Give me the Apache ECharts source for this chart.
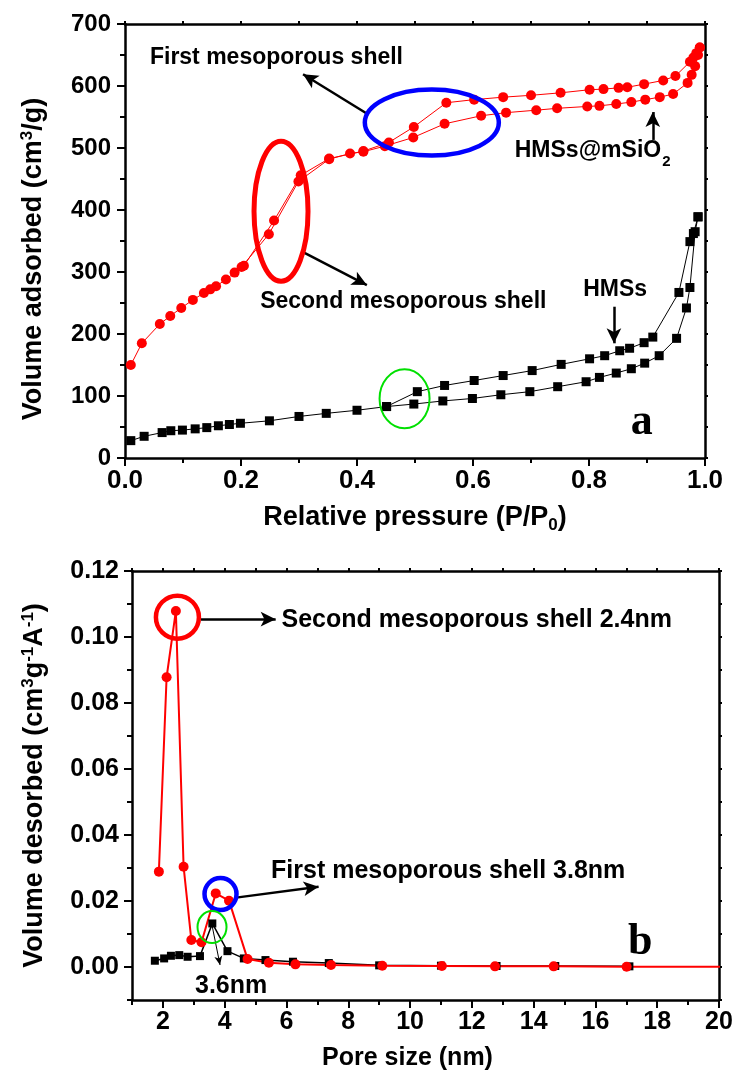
<!DOCTYPE html>
<html>
<head>
<meta charset="UTF-8">
<title>isotherm + pore size</title>
<script src="https://cdn.jsdelivr.net/npm/echarts@6/dist/echarts.min.js"></script>
<style>html,body{margin:0;padding:0;background:#fff;}</style>
</head>
<body>
<div id="main" style="width:736px;height:1073px"></div>
<script>
// (a) N2 isotherms: relative pressure P/P0 vs volume adsorbed (cm3/g)
var redAdsX = [0.010,0.029,0.060,0.078,0.097,0.117,0.136,0.147,0.157,0.174,0.189,0.201,0.248,0.299,0.352,0.388,0.411,0.448,0.497,0.551,0.614,0.657,0.709,0.745,0.797,0.818,0.847,0.873,0.897,0.922,0.945,0.970,0.977,0.983,0.988,0.991];
var redAdsY = [150,185,216,229,242,255,266,272,277,288,299,308,361,446,482,491,494,503,517,539,552,557,561,564,567,568,571,574,578,582,587,605,618,632,650,662];
var redDesX = [0.991,0.985,0.980,0.974,0.949,0.928,0.895,0.866,0.851,0.825,0.801,0.751,0.700,0.652,0.602,0.554,0.498,0.455,0.411,0.352,0.303,0.257,0.205];
var redDesY = [662,653,646,639,616,609,603,598,597,595,594,589,585,582,578,573,534,509,495,483,456,383,310];
var blackAdsX = [0.010,0.033,0.064,0.079,0.099,0.121,0.141,0.161,0.180,0.199,0.249,0.300,0.347,0.400,0.451,0.498,0.548,0.599,0.648,0.698,0.746,0.795,0.818,0.847,0.873,0.896,0.921,0.951,0.968,0.974,0.983,0.988];
var blackAdsY = [28,35,41,44,45,47,49,52,54,56,60,67,72,77,83,87,92,96,102,107,115,123,130,137,144,153,165,193,242,275,365,389];
var blackDesX = [0.988,0.980,0.974,0.955,0.910,0.895,0.870,0.853,0.827,0.801,0.752,0.702,0.652,0.602,0.551,0.504,0.451];
var blackDesY = [389,362,349,267,195,186,177,173,165,160,151,141,133,125,117,107,83];

// (b) pore size distribution: pore size (nm) vs volume desorbed
var pdRedX = [1.87,2.12,2.42,2.67,2.92,3.25,3.71,4.14,4.74,5.43,6.29,7.44,9.10,11.03,12.75,14.65,17.01,20.5];
var pdRedY = [0.0289,0.0878,0.1079,0.0304,0.0082,0.0075,0.0223,0.0201,0.0024,0.0013,0.0008,0.0006,0.0004,0.0003,0.0002,0.0002,0.0001,0.0001];
var pdBlackX = [1.74,2.04,2.26,2.53,2.80,3.20,3.60,4.09,4.62,5.32,6.21,7.37,9.00,11.00,12.80,14.70,17.10];
var pdBlackY = [0.0019,0.0026,0.0034,0.0036,0.0031,0.0033,0.0132,0.0048,0.0026,0.0021,0.0016,0.0012,0.0005,0.0004,0.0003,0.0003,0.0002];

// long (labelled) ticks of chart b
var pdXTicks = [2,4,6,8,10,12,14,16,18,20];
var pdYTicks = [0,0.02,0.04,0.06,0.08,0.10,0.12];

var SANS = '"Liberation Sans", Arial, sans-serif';
var SERIF = '"Liberation Serif", "Times New Roman", serif';

function zip(xs, ys) {
	return xs.map(function (x, i) { return [x, ys[i]]; });
}
function evenOnly(step, digits) {
	return function (v) {
		var k = Math.round(v / step);
		return k % 2 === 0 ? v.toFixed(digits) : '';
	};
}

var black = '#000';
var axLine = {show: true, onZero: false, lineStyle: {color: black, width: 2.5}};
var noLine = {show: false, onZero: false};
var tickLine = {color: black, width: 2};
function lab(size, extra) {
	var o = {color: black, fontFamily: SANS, fontWeight: 'bold', fontSize: size};
	for (var k in extra) o[k] = extra[k];
	return o;
}
function nameStyle(size, pad) {
	return lab(size, {padding: pad, rich: {
		sup: {fontFamily: SANS, fontWeight: 'bold', fontSize: 17, color: black, padding: [0, 0, 13, 0]},
		sub: {fontFamily: SANS, fontWeight: 'bold', fontSize: 17, color: black, padding: [15, 0, 0, 0]}
	}});
}
var off = {show: false};

// mirror axis on the far side of the frame: line + short ticks
function mirror(grid, pos, min, max, step) {
	return {
		gridIndex: grid, type: 'value', position: pos, min: min, max: max, interval: step,
		axisLine: axLine, axisTick: {show: true, length: 3, lineStyle: tickLine},
		axisLabel: off, splitLine: off
	};
}

var option = {
	animation: false,
	backgroundColor: '#fff',
	grid: [
		{left: 125, top: 24, width: 580, height: 434, containLabel: false, outerBoundsMode: 'none'},
		{left: 132, top: 571, width: 587, height: 429, containLabel: false, outerBoundsMode: 'none'}
	],
	xAxis: [
		{
			gridIndex: 0, type: 'value', position: 'bottom', min: 0, max: 1, interval: 0.2,
			axisLine: axLine,
			axisTick: {show: true, length: 8, lineStyle: tickLine},
			minorTick: {show: true, splitNumber: 2, length: 5, lineStyle: tickLine},
			splitLine: off, minorSplitLine: off,
			axisLabel: lab(26, {margin: 10, formatter: function (v) { return v.toFixed(1); }}),
			name: 'Relative pressure (P/P{sub|0})', nameLocation: 'middle', nameGap: 44,
			nameTextStyle: nameStyle(27, 0)
		},
		mirror(0, 'top', 0, 1, 0.1),
		{
			gridIndex: 1, type: 'value', position: 'bottom', min: 1, max: 20, interval: 1,
			axisLine: axLine,
			axisTick: {show: true, length: 5, lineStyle: tickLine},
			splitLine: off,
			axisLabel: lab(25, {margin: 10, formatter: evenOnly(1, 0)}),
			name: 'Pore size (nm)', nameLocation: 'middle', nameGap: 46,
			nameTextStyle: nameStyle(25, [0, 36, 0, 0])
		},
		{
			gridIndex: 1, type: 'value', position: 'bottom', min: 1, max: 20,
			axisLine: noLine, axisLabel: off, splitLine: off,
			axisTick: {show: true, length: 8, lineStyle: tickLine, customValues: pdXTicks}
		},
		mirror(1, 'top', 1, 20, 1)
	],
	yAxis: [
		{
			gridIndex: 0, type: 'value', position: 'left', min: 0, max: 700, interval: 100,
			axisLine: axLine,
			axisTick: {show: true, length: 8, lineStyle: tickLine},
			minorTick: {show: true, splitNumber: 2, length: 5, lineStyle: tickLine},
			splitLine: off, minorSplitLine: off,
			axisLabel: lab(24, {margin: 14}),
			name: 'Volume adsorbed (cm{sup|3}/g)', nameLocation: 'middle', nameGap: 76,
			nameTextStyle: nameStyle(27, [0, 36, 0, 0])
		},
		mirror(0, 'right', 0, 700, 50),
		{
			gridIndex: 1, type: 'value', position: 'left', min: -0.01, max: 0.12, interval: 0.01,
			axisLine: axLine,
			axisTick: {show: true, length: 5, lineStyle: tickLine},
			splitLine: off,
			axisLabel: lab(25, {margin: 13, formatter: evenOnly(0.01, 2)}),
			name: 'Volume desorbed (cm{sup|3}g{sup|-1}A{sup|-1})', nameLocation: 'middle', nameGap: 82,
			nameTextStyle: nameStyle(27, 0)
		},
		{
			gridIndex: 1, type: 'value', position: 'left', min: -0.01, max: 0.12,
			axisLine: noLine, axisLabel: off, splitLine: off,
			axisTick: {show: true, length: 8, lineStyle: tickLine, customValues: pdYTicks}
		},
		mirror(1, 'right', -0.01, 0.12, 0.01)
	],
	series: [
		{
			name: 'HMSs@mSiO2 ads', type: 'line', xAxisIndex: 0, yAxisIndex: 0,
			data: zip(redAdsX, redAdsY), symbol: 'circle', symbolSize: 10,
			itemStyle: {color: '#ff0000'}, lineStyle: {color: '#ff0000', width: 1}, z: 3,
			markLine: {
				silent: true, symbol: ['none', 'arrow'], symbolSize: [11, 15],
				label: off, lineStyle: {color: black, width: 2.5, type: 'solid'},
				data: [
					[{coord: [0.416, 556]}, {coord: [0.307, 619]}],
					[{coord: [0.307, 332]}, {coord: [0.417, 279]}],
					[{coord: [0.910, 513]}, {coord: [0.910, 558]}],
					[{coord: [0.843, 244]}, {coord: [0.843, 185]}]
				]
			}
		},
		{
			name: 'HMSs@mSiO2 des', type: 'line', xAxisIndex: 0, yAxisIndex: 0,
			data: zip(redDesX, redDesY), symbol: 'circle', symbolSize: 10,
			itemStyle: {color: '#ff0000'}, lineStyle: {color: '#ff0000', width: 1}, z: 3
		},
		{
			name: 'HMSs ads', type: 'line', xAxisIndex: 0, yAxisIndex: 0,
			data: zip(blackAdsX, blackAdsY), symbol: 'rect', symbolSize: 9,
			itemStyle: {color: black}, lineStyle: {color: black, width: 1}
		},
		{
			name: 'HMSs des', type: 'line', xAxisIndex: 0, yAxisIndex: 0,
			data: zip(blackDesX, blackDesY), symbol: 'rect', symbolSize: 9,
			itemStyle: {color: black}, lineStyle: {color: black, width: 1}
		},
		{
			name: 'HMSs', type: 'line', xAxisIndex: 2, yAxisIndex: 2,
			data: zip(pdBlackX, pdBlackY), symbol: 'rect', symbolSize: 8,
			itemStyle: {color: black}, lineStyle: {color: black, width: 1.5},
			markLine: {
				silent: true, symbol: ['none', 'arrow'], symbolSize: [6, 9],
				label: off, lineStyle: {color: black, width: 1, type: 'solid'},
				data: [[{coord: [3.60, 0.0122]}, {coord: [3.85, 0.0006]}]]
			}
		},
		{
			name: 'HMSs@mSiO2', type: 'line', xAxisIndex: 2, yAxisIndex: 2,
			data: zip(pdRedX, pdRedY), symbol: 'circle', symbolSize: 10,
			itemStyle: {color: '#ff0000'}, lineStyle: {color: '#ff0000', width: 2}, z: 3,
			markLine: {
				silent: true, symbol: ['none', 'arrow'], symbolSize: [11, 15],
				label: off, lineStyle: {color: black, width: 2.5, type: 'solid'},
				data: [
					[{coord: [3.23, 0.1054]}, {coord: [5.65, 0.1054]}],
					[{coord: [4.43, 0.0211]}, {coord: [7.04, 0.0243]}]
				]
			}
		}
	]
};

var chart = echarts.init(document.getElementById('main'));
chart.setOption(option);

// annotations, anchored in data coordinates of each panel
function at(panel, c) {
	return chart.convertToPixel({seriesIndex: panel === 'a' ? 0 : 4}, c);
}
function ring(panel, c, rx, ry, color, lw) {
	var p = at(panel, c);
	return {type: 'ellipse', z: 100, silent: true, shape: {cx: p[0], cy: p[1], rx: rx, ry: ry},
		style: {fill: 'none', stroke: color, lineWidth: lw}};
}
function note(panel, c, text, size, extra) {
	var p = at(panel, c);
	var st = {text: text, fill: black, fontFamily: SANS, fontWeight: 'bold', fontSize: size,
		align: 'left', verticalAlign: 'middle'};
	for (var k in extra) st[k] = extra[k];
	return {type: 'text', z: 100, silent: true, x: p[0], y: p[1], style: st};
}

chart.setOption({
	graphic: [
		ring('a', [0.269, 398], 27, 70, '#ff0000', 5),
		ring('a', [0.529, 541], 67, 33, '#0000ff', 4.5),
		ring('a', [0.482, 95.5], 25, 29.5, '#00e000', 2),
		note('a', [0.043, 645], 'First mesoporous shell', 23),
		note('a', [0.233, 252.6], 'Second mesoporous shell', 23),
		note('a', [0.672, 495], '{n|HMSs@mSiO}{s|2}', 23, {rich: {
			n: {fontFamily: SANS, fontWeight: 'bold', fontSize: 23, fill: black},
			s: {fontFamily: SANS, fontWeight: 'bold', fontSize: 15, fill: black, padding: [22, 0, 0, 1]}
		}}),
		note('a', [0.790, 271], 'HMSs', 23),
		note('a', [0.891, 21.8], 'a', 44, {fontFamily: SERIF, align: 'center', verticalAlign: 'bottom'}),

		ring('b', [2.47, 0.106], 21.5, 21.5, '#ff0000', 4.5),
		ring('b', [3.865, 0.0221], 16, 16, '#0000ff', 4.5),
		ring('b', [3.59, 0.0121], 14.5, 16, '#00e000', 2),
		note('b', [5.84, 0.105], 'Second mesoporous shell 2.4nm', 25),
		note('b', [5.5, 0.0292], 'First mesoporous shell 3.8nm', 25),
		note('b', [3.04, -0.0057], '3.6nm', 25),
		note('b', [17.45, 0.00076], 'b', 44, {fontFamily: SERIF, align: 'center', verticalAlign: 'bottom'})
	]
});
</script>
</body>
</html>
